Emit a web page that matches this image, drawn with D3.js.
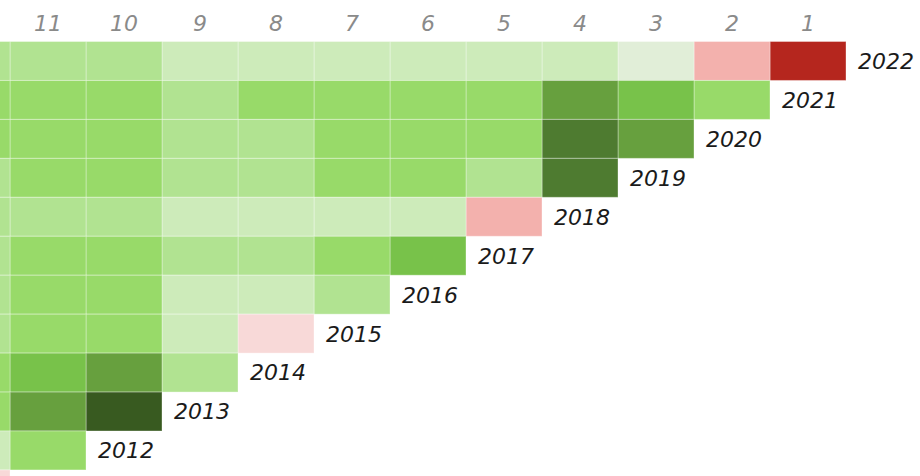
<!DOCTYPE html>
<html>
<head>
<meta charset="utf-8">
<script src="https://cdn.jsdelivr.net/npm/d3@7"></script>
<style>
  html, body { margin: 0; padding: 0; background: #fff; overflow: hidden; }
  svg { display: block; }
</style>
</head>
<body>
<svg id="chart" width="920" height="476"></svg>
<script>
// Holding period (years) shown as column headers
const periods = [12, 11, 10, 9, 8, 7, 6, 5, 4, 3, 2, 1];
// Row labels (year)
const years = [2022, 2021, 2020, 2019, 2018, 2017, 2016, 2015, 2014, 2013, 2012, 2011];
// Annualized values, indexed by period 1..12 (null = no cell)
const r2022 = [-19.2, -8.4, 1.6, 4.8, 4.2, 4.5, 5.1, 4.9, 4.4, 8.3, 7.9, 8.1];
const r2021 = [null, 12.1, 16.3, 20.5, 12.6, 12.9, 12.2, 11.8, 8.7, 11.6, 12.3, 11.9];
const r2020 = [null, null, 19.8, 23.6, 12.4, 12.0, 11.5, 8.9, 9.1, 12.2, 11.7, 11.4];
const r2019 = [null, null, null, 24.4, 8.8, 11.4, 10.9, 7.8, 8.2, 11.1, 10.7, 9.3];
const r2018 = [null, null, null, null, -7.9, 4.7, 5.0, 5.2, 4.6, 7.4, 7.8, 8.0];
const r2017 = [null, null, null, null, null, 16.8, 13.1, 8.6, 9.2, 12.8, 12.5, 9.6];
const r2016 = [null, null, null, null, null, null, 8.2, 4.9, 5.3, 11.2, 11.5, 8.4];
const r2015 = [null, null, null, null, null, null, null, -1.8, 4.1, 11.9, 12.7, 9.0];
const r2014 = [null, null, null, null, null, null, null, null, 8.5, 19.4, 16.6, 12.2];
const r2013 = [null, null, null, null, null, null, null, null, null, 29.3, 19.1, 13.4];
const r2012 = [null, null, null, null, null, null, null, null, null, null, 12.9, 4.3];
const r2011 = [null, null, null, null, null, null, null, null, null, null, null, -2.1];
const rows = [r2022, r2021, r2020, r2019, r2018, r2017, r2016, r2015, r2014, r2013, r2012, r2011];

const thresholds = [-15, -5, 0, 3, 6, 10, 14, 18, 22, 26];
const palette = ['#b5261e', '#f3b1ad', '#f8d9d8', '#e1eed8', '#cdebba', '#b1e391',
                 '#98da69', '#78c24a', '#67a03e', '#4e7b30', '#385a20'];

const W = 920, H = 476;
const svg = d3.select('#chart');
const color = d3.scaleThreshold().domain(thresholds).range(palette);

const x = d3.scaleBand().domain(periods).range([-66, 846]).padding(0);
const y = d3.scaleBand().domain(years).range([41.5, 41.5 + 12 * 38.95]).padding(0);

const cells = [];
years.forEach((yr, i) => {
  rows[i].forEach((v, j) => {
    if (v !== null) cells.push({ year: yr, period: j + 1, value: v });
  });
});

svg.append('g').selectAll('rect').data(cells).join('rect')
  .attr('x', d => x(d.period))
  .attr('y', d => y(d.year))
  .attr('width', x.bandwidth())
  .attr('height', y.bandwidth())
  .attr('fill', d => color(d.value))
  .attr('stroke', 'rgba(255,255,255,0.35)')
  .attr('stroke-width', 1);

// Column headers (only those whose column centre lies inside the view)
const visiblePeriods = periods.filter(p => x(p) + x.bandwidth() / 2 > 0);
const xAxis = d3.axisTop(x).tickValues(visiblePeriods).tickSize(0).tickPadding(0);
const gx = svg.append('g').attr('transform', 'translate(0,31)').call(xAxis);
gx.select('.domain').remove();
gx.selectAll('text')
  .attr('font-family', 'DejaVu Sans, sans-serif')
  .attr('font-style', 'italic')
  .attr('font-size', 22)
  .attr('fill', '#8a8a8a');

// Year labels at the end of each diagonal (only those inside the view)
const visibleYears = years.filter(yr => y(yr) + y.bandwidth() / 2 + 10 < H);
svg.append('g').selectAll('text').data(visibleYears).join('text')
  .attr('x', (yr, i) => x(i + 1) + x.bandwidth() + 12)
  .attr('y', yr => y(yr) + y.bandwidth() / 2)
  .attr('dy', '0.36em')
  .attr('font-family', 'DejaVu Sans, sans-serif')
  .attr('font-style', 'italic')
  .attr('font-size', 22)
  .attr('fill', '#1a1a1a')
  .text(yr => yr);
</script>
</body>
</html>
